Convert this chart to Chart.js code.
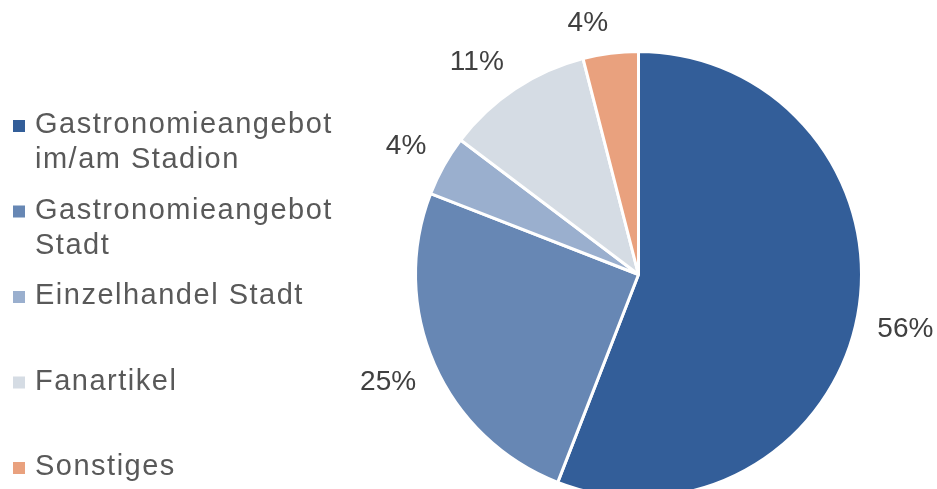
<!DOCTYPE html>
<html>
<head>
<meta charset="utf-8">
<script src="https://cdn.jsdelivr.net/npm/chart.js@4/dist/chart.umd.min.js"></script>
<style>
  html, body { margin: 0; padding: 0; background: #fff; overflow: hidden; }
  #wrap { width: 937px; height: 500px; }
</style>
</head>
<body>
<div id="wrap"><canvas id="myChart" width="937" height="500"></canvas></div>
<script>
// categories (multi-line labels as arrays)
const categories = [
  ['Gastronomieangebot', 'im/am Stadion'],
  ['Gastronomieangebot', 'Stadt'],
  ['Einzelhandel Stadt'],
  ['Fanartikel'],
  ['Sonstiges']
]
// share in percent
const shares = [55.9, 25.0, 4.4, 10.7, 4.0]
const colors = ['#335E99', '#6787B4', '#9AAFCE', '#D5DCE4', '#E9A17E']

const FONT = '"Liberation Sans", Arial, sans-serif'

// percentage labels outside of the slices
// the label box corner closest to the pie sits on the slice's mid ray
const outsideLabels = {
  id: 'outsideLabels',
  afterDatasetsDraw(chart) {
    const ctx = chart.ctx
    const meta = chart.getDatasetMeta(0)
    ctx.save()
    ctx.font = '28px ' + FONT
    ctx.fillStyle = '#404040'
    ctx.textAlign = 'center'
    ctx.textBaseline = 'middle'
    meta.data.forEach((arc, i) => {
      const p = arc.getProps(['x', 'y', 'startAngle', 'endAngle', 'outerRadius'], true)
      const mid = (p.startAngle + p.endAngle) / 2
      const txt = Math.round(shares[i]) + '%'
      const halfW = ctx.measureText(txt).width / 2
      const halfH = 10
      const c = Math.cos(mid), s = Math.sin(mid)
      const dist = p.outerRadius + 20
      const x = p.x + c * dist + Math.sign(c) * halfW
      const y = p.y + s * dist + Math.sign(s) * halfH
      ctx.fillText(txt, x, y)
    })
    ctx.restore()
  }
}

// legend on the left, drawn by hand to get the wrapped lines
const leftLegend = {
  id: 'leftLegend',
  afterDraw(chart) {
    const ctx = chart.ctx
    ctx.save()
    ctx.font = '29px ' + FONT
    if ('letterSpacing' in ctx) ctx.letterSpacing = '1.5px'
    ctx.textBaseline = 'alphabetic'
    ctx.textAlign = 'left'
    categories.forEach((lines, i) => {
      const base = 133 + i * 85.5
      ctx.fillStyle = colors[i]
      ctx.fillRect(13, base - 13, 12, 12)
      ctx.fillStyle = '#595959'
      lines.forEach((line, j) => {
        ctx.fillText(line, 35, base + j * 35)
      })
    })
    ctx.restore()
  }
}

const myChartRef = document.getElementById('myChart').getContext('2d')
new Chart(myChartRef, {
  type: 'pie',
  data: {
    labels: categories.map(c => c.join(' ')),
    datasets: [
      {
        data: shares,
        backgroundColor: colors,
        borderColor: '#ffffff',
        borderWidth: 3
      }
    ]
  },
  options: {
    responsive: false,
    animation: false,
    devicePixelRatio: 1,
    layout: {
      padding: { left: 414, right: 74, top: 50, bottom: 1 }
    },
    plugins: {
      legend: { display: false },
      tooltip: { enabled: false }
    }
  },
  plugins: [outsideLabels, leftLegend]
});
</script>
</body>
</html>
